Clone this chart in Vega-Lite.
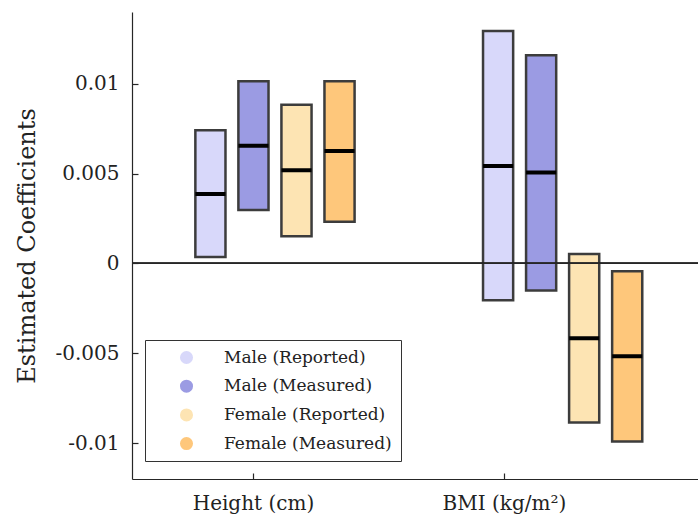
{
  "$schema": "https://vega.github.io/schema/vega-lite/v6.json",
  "width": 566,
  "height": 467,
  "autosize": {"type": "none"},
  "padding": {"left": 132, "top": 12, "right": 0, "bottom": 40},
  "background": "white",
  "config": {
    "view": {"stroke": null},
    "font": "DejaVu Serif",
    "axis": {"grid": false, "domainColor": "#262626", "tickColor": "#262626", "labelColor": "#222222", "titleColor": "#222222", "labelFont": "DejaVu Serif", "titleFont": "DejaVu Serif", "titleFontWeight": "normal", "tickSize": -6, "domainWidth": 1.2, "tickWidth": 1.2}
  },
  "data": {"values": [
    {"variable": "Height (cm)", "group": "Male (Reported)", "lo": 0.00036, "hi": 0.00741, "med": 0.00387},
    {"variable": "Height (cm)", "group": "Male (Measured)", "lo": 0.00297, "hi": 0.01015, "med": 0.00656},
    {"variable": "Height (cm)", "group": "Female (Reported)", "lo": 0.00152, "hi": 0.00883, "med": 0.00519},
    {"variable": "Height (cm)", "group": "Female (Measured)", "lo": 0.00232, "hi": 0.01015, "med": 0.00626},
    {"variable": "BMI (kg/m²)", "group": "Male (Reported)", "lo": -0.00205, "hi": 0.01294, "med": 0.00543},
    {"variable": "BMI (kg/m²)", "group": "Male (Measured)", "lo": -0.00151, "hi": 0.01159, "med": 0.00506},
    {"variable": "BMI (kg/m²)", "group": "Female (Reported)", "lo": -0.00885, "hi": 0.00053, "med": -0.00417},
    {"variable": "BMI (kg/m²)", "group": "Female (Measured)", "lo": -0.00991, "hi": -0.00043, "med": -0.00517}
  ]},
  "resolve": {"scale": {"x": "independent"}},
  "layer": [
    {
      "mark": {"type": "bar", "stroke": "#3c3c3c", "strokeWidth": 2.5, "opacity": 1},
      "encoding": {
        "x": {"field": "variable", "type": "nominal", "sort": null, "axis": null,
              "scale": {"domain": ["Height (cm)", "BMI (kg/m²)"], "paddingInner": 0.4465, "paddingOuter": 0.207, "align": 0.532}},
        "xOffset": {"field": "group", "type": "nominal", "sort": null,
              "scale": {"domain": ["Male (Reported)", "Male (Measured)", "Female (Reported)", "Female (Measured)"], "paddingInner": 0.3, "paddingOuter": 0}},
        "y": {"field": "lo", "type": "quantitative", "title": "Estimated Coefficients",
              "scale": {"domain": [-0.012, 0.014], "nice": false, "zero": false},
              "axis": {"values": [-0.01, -0.005, 0, 0.005, 0.01], "labelFontSize": 20, "labelPadding": 19, "titleFontSize": 24, "titlePadding": 15,
                       "labelExpr": "replace(format(datum.value, '~g'), '\u2212', '-')"}},
        "y2": {"field": "hi"},
        "color": {"field": "group", "type": "nominal", "sort": null,
                  "scale": {"domain": ["Male (Reported)", "Male (Measured)", "Female (Reported)", "Female (Measured)"], "range": ["#d8d8fa", "#9b9be3", "#fde4b3", "#fec77b"]},
                  "legend": {"title": null, "orient": "none", "legendX": 13, "legendY": 328, "symbolType": "circle", "symbolSize": 170, "symbolStrokeWidth": 0, "symbolOpacity": 1,
                             "labelFont": "DejaVu Serif", "labelFontSize": 17, "labelColor": "#222222", "labelOffset": 29, "labelLimit": 400, "symbolOffset": 24, "rowPadding": 10.7, "padding": 9,
                             "strokeColor": "#333333", "fillColor": "white", "cornerRadius": 0}}
      }
    },
    {
      "mark": {"type": "bar", "fill": "black", "stroke": "black", "strokeWidth": 4},
      "encoding": {
        "x": {"field": "variable", "type": "nominal", "sort": null, "axis": null,
              "scale": {"domain": ["Height (cm)", "BMI (kg/m²)"], "paddingInner": 0.4465, "paddingOuter": 0.207, "align": 0.532}},
        "xOffset": {"field": "group", "type": "nominal", "sort": null,
              "scale": {"domain": ["Male (Reported)", "Male (Measured)", "Female (Reported)", "Female (Measured)"], "paddingInner": 0.3, "paddingOuter": 0}},
        "y": {"field": "med", "type": "quantitative", "title": "Estimated Coefficients"},
        "y2": {"field": "med"}
      }
    },
    {
      "mark": {"type": "rule", "color": "#262626", "strokeWidth": 1.2},
      "encoding": {"y": {"datum": 0, "type": "quantitative"}}
    },
    {
      "mark": {"type": "point", "opacity": 0},
      "encoding": {
        "x": {"field": "variable", "type": "nominal", "sort": null,
              "scale": {"type": "point", "domain": ["Height (cm)", "BMI (kg/m²)"], "padding": 0.6275, "align": 0.384},
              "axis": {"orient": "bottom", "title": null, "labelAngle": 0, "labelFontSize": 20, "labelPadding": 20}},
        "y": {"field": "med", "type": "quantitative", "title": "Estimated Coefficients"}
      }
    }
  ]
}
